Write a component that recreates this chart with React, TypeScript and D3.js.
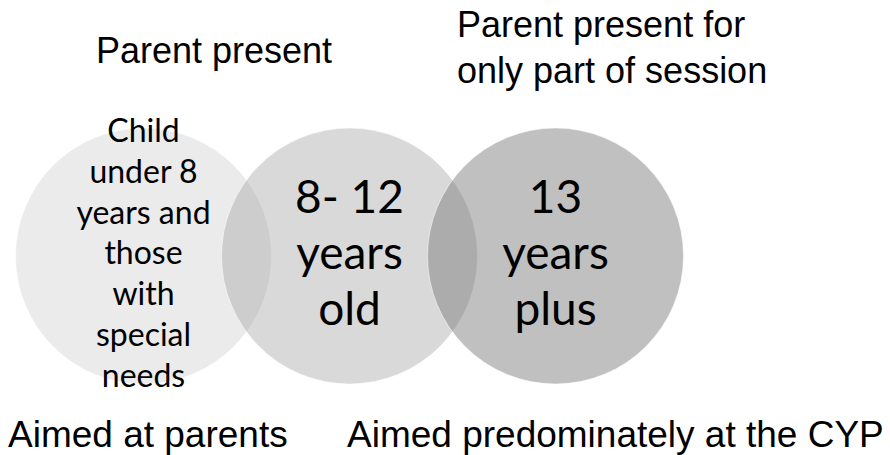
import React, { useEffect, useRef } from 'react'
import * as d3 from 'd3'

const groups = ['under8', 'age8to12', 'age13plus']
const circleLines = [
  ['Child', 'under 8', 'years and', 'those', 'with', 'special', 'needs'],
  ['8- 12', 'years', 'old'],
  ['13', 'years', 'plus'],
]
const circleFills = ['#ebebeb', '#a0a0a0', '#797979']
const circleOpacity = [1, 0.4, 0.47]

const topLabels = [['Parent present'], ['Parent present for', 'only part of session']]
const bottomLabels = ['Aimed at parents', 'Aimed predominately at the CYP']

const W = 890
const H = 455

const x = d3.scalePoint().domain(groups).range([143.5, 555.5])
const cy = 256
const r = 128

const App = () => {
  const ref = useRef(null)

  useEffect(() => {
    const svg = d3.select(ref.current)
    svg.selectAll('*').remove()

    // circles
    svg
      .append('g')
      .selectAll('circle')
      .data(groups)
      .join('circle')
      .attr('cx', (d) => x(d))
      .attr('cy', cy)
      .attr('r', r)
      .attr('fill', (d, i) => circleFills[i])
      .attr('fill-opacity', (d, i) => circleOpacity[i])
      .attr('stroke', '#ffffff')
      .attr('stroke-opacity', 0.5)
      .attr('stroke-width', 1)

    // circle text
    const sizes = [32, 46, 46]
    const steps = [40.8, 56, 56]
    const firstBase = [142, 213, 213]
    groups.forEach((g, i) => {
      svg
        .append('text')
        .attr('text-anchor', 'middle')
        .attr('font-family', 'Lato, "Open Sans", sans-serif')
        .attr('font-size', sizes[i])
        .attr('fill', '#000')
        .selectAll('tspan')
        .data(circleLines[i])
        .join('tspan')
        .attr('x', x(g))
        .attr('y', (d, j) => firstBase[i] + j * steps[i])
        .text((d) => d)
    })

    const font = '"Liberation Sans", Arial, sans-serif'

    // top labels
    const topPos = [
      { x: 214, y: 63, anchor: 'middle' },
      { x: 457, y: 37, anchor: 'start' },
    ]
    topLabels.forEach((lines, i) => {
      svg
        .append('text')
        .attr('text-anchor', topPos[i].anchor)
        .attr('font-family', font)
        .attr('font-size', 36)
        .selectAll('tspan')
        .data(lines)
        .join('tspan')
        .attr('x', topPos[i].x)
        .attr('y', (d, j) => topPos[i].y + j * 46)
        .text((d) => d)
    })

    // bottom labels
    const botX = [8, 347]
    svg
      .append('g')
      .selectAll('text')
      .data(bottomLabels)
      .join('text')
      .attr('x', (d, i) => botX[i])
      .attr('y', 447)
      .attr('font-family', font)
      .attr('font-size', 37)
      .text((d) => d)
  }, [])

  return (
    <svg
      ref={ref}
      width={W}
      height={H}
      style={{ position: 'absolute', left: 0, top: 0, background: '#fff' }}
    />
  )
}

export default App
